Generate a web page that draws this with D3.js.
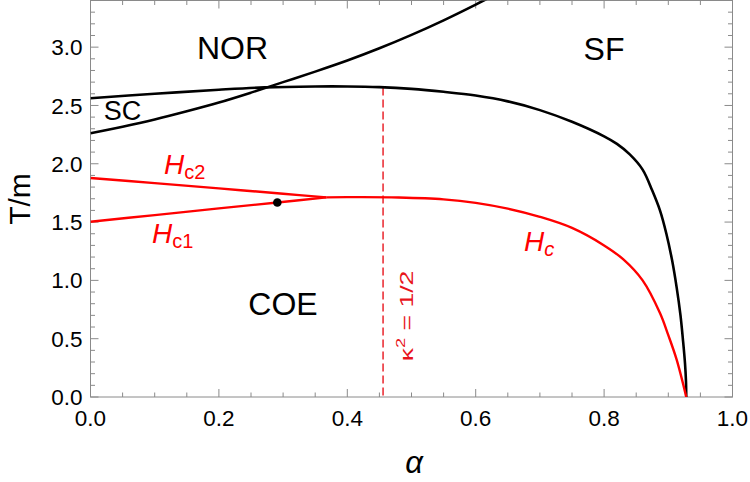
<!DOCTYPE html>
<html>
<head>
<meta charset="utf-8">
<script src="https://cdn.jsdelivr.net/npm/d3@7"></script>
<style>
  body { margin: 0; background: #fff; }
  text { font-family: "Liberation Sans", Arial, sans-serif; }
</style>
</head>
<body>
<div id="chart"></div>
<script>
// --- data ---
const norAlpha = [0, 0.05, 0.1, 0.15, 0.2, 0.25, 0.3, 0.35, 0.4, 0.45, 0.5, 0.55, 0.6, 0.63];
const norT     = [2.262, 2.318, 2.38, 2.45, 2.525, 2.61, 2.70, 2.79, 2.885, 2.99, 3.105, 3.23, 3.365, 3.45];

const sfAlpha = [0, 0.1, 0.2, 0.271, 0.35, 0.4, 0.45, 0.5, 0.55, 0.6, 0.65, 0.7, 0.75, 0.8, 0.82, 0.84, 0.86, 0.875, 0.887, 0.897, 0.906, 0.913, 0.919, 0.923, 0.926, 0.9275, 0.928];
const sfT     = [2.562, 2.60, 2.635, 2.655, 2.663, 2.663, 2.657, 2.642, 2.617, 2.585, 2.535, 2.46, 2.36, 2.235, 2.17, 2.08, 1.95, 1.77, 1.60, 1.40, 1.17, 0.94, 0.70, 0.48, 0.29, 0.14, 0];

const hc2Alpha = [0, 0.1, 0.2, 0.3, 0.3675];
const hc2T     = [1.878, 1.834, 1.789, 1.743, 1.712];

const hc1Alpha = [0, 0.1, 0.2, 0.291, 0.3675];
const hc1T     = [1.503, 1.560, 1.617, 1.668, 1.712];

const hcAlpha = [0.3675, 0.42, 0.48, 0.55, 0.6, 0.65, 0.7, 0.75, 0.8, 0.83, 0.86, 0.887, 0.9, 0.913, 0.928];
const hcT     = [1.712, 1.714, 1.711, 1.695, 1.665, 1.615, 1.545, 1.45, 1.30, 1.18, 1.00, 0.72, 0.53, 0.32, 0];

const dotPoint = [0.291, 1.668];
const kappaAlpha = 0.4557;

const xTicks = [0, 0.2, 0.4, 0.6, 0.8, 1.0];
const yTicks = [0, 0.5, 1.0, 1.5, 2.0, 2.5, 3.0];

const W = 750, H = 482;
const margin = {top: 0.5, right: 17.5, bottom: 85, left: 90.5};
const width = W - margin.left - margin.right;
const height = H - margin.top - margin.bottom;

const svg = d3.select("#chart").append("svg")
    .attr("width", W).attr("height", H);

const g = svg.append("g")
    .attr("transform", `translate(${margin.left},${margin.top})`);

const x = d3.scaleLinear().domain([0, 1]).range([0, width]);
const y = d3.scaleLinear().domain([0, 3.4]).range([height, 0]);

const frameColor = "#8a8a8a";

// minor / major ticks on all four sides, pointing inward
const xMinor = d3.range(0, 1.0001, 0.05);
const yMinor = d3.range(0, 3.40001, 0.1);
const isMajorX = v => xTicks.some(t => Math.abs(t - v) < 1e-6);
const isMajorY = v => yTicks.some(t => Math.abs(t - v) < 1e-6);

const ticks = g.append("g").attr("stroke", frameColor).attr("stroke-width", 1);
xMinor.forEach(v => {
    const len = isMajorX(v) ? 8 : 4.5;
    ticks.append("line").attr("x1", x(v)).attr("x2", x(v)).attr("y1", height).attr("y2", height - len);
    ticks.append("line").attr("x1", x(v)).attr("x2", x(v)).attr("y1", 0).attr("y2", len);
});
yMinor.forEach(v => {
    const len = isMajorY(v) ? 8 : 4.5;
    ticks.append("line").attr("y1", y(v)).attr("y2", y(v)).attr("x1", 0).attr("x2", len);
    ticks.append("line").attr("y1", y(v)).attr("y2", y(v)).attr("x1", width).attr("x2", width - len);
});

g.append("rect")
    .attr("width", width).attr("height", height)
    .attr("fill", "none").attr("stroke", frameColor).attr("stroke-width", 1);

// tick labels
g.selectAll(".xlab").data(xTicks).join("text")
    .attr("x", d => x(d)).attr("y", height + 29)
    .attr("text-anchor", "middle")
    .style("font-size", "22.5px")
    .text(d => d.toFixed(1));

g.selectAll(".ylab").data(yTicks).join("text")
    .attr("x", -8).attr("y", d => y(d)).attr("dy", "0.36em")
    .attr("text-anchor", "end")
    .style("font-size", "22.5px")
    .text(d => d.toFixed(1));

// axis titles
svg.append("text")
    .attr("transform", `translate(30,199) rotate(-90)`)
    .attr("text-anchor", "middle")
    .style("font-size", "30px")
    .text("T/m");

svg.append("text")
    .attr("x", 414).attr("y", 473)
    .attr("text-anchor", "middle")
    .style("font-size", "31px").style("font-style", "italic")
    .text("α");

// curves
svg.append("defs").append("clipPath").attr("id", "plotclip")
    .append("rect").attr("width", width).attr("height", height);

const plot = g.append("g").attr("clip-path", "url(#plotclip)");

const line = d3.line()
    .x(d => x(d[0])).y(d => y(d[1]))
    .curve(d3.curveCatmullRom.alpha(0.5));

const zip = (a, b) => a.map((v, i) => [v, b[i]]);

// kappa^2 = 1/2 dashed line
plot.append("line")
    .attr("x1", x(kappaAlpha)).attr("x2", x(kappaAlpha))
    .attr("y1", y(2.655)).attr("y2", height)
    .attr("stroke", "#e8141c").attr("stroke-width", 1.4)
    .attr("stroke-dasharray", "8,4");

plot.append("path").datum(zip(norAlpha, norT))
    .attr("d", line).attr("fill", "none").attr("stroke", "#000").attr("stroke-width", 2.6);
plot.append("path").datum(zip(sfAlpha, sfT))
    .attr("d", line).attr("fill", "none").attr("stroke", "#000").attr("stroke-width", 2.6);

[zip(hc2Alpha, hc2T), zip(hc1Alpha, hc1T), zip(hcAlpha, hcT)].forEach(d => {
    plot.append("path").datum(d)
        .attr("d", line).attr("fill", "none").attr("stroke", "#ff0000").attr("stroke-width", 2.4);
});

plot.append("circle")
    .attr("cx", x(dotPoint[0])).attr("cy", y(dotPoint[1])).attr("r", 4.3)
    .attr("fill", "#000");

// region labels
const labels = [
    {t: "NOR", x: 232.5, y: 59},
    {t: "SF", x: 604, y: 60},
    {t: "SC", x: 122.5, y: 120, s: 27},
    {t: "COE", x: 283, y: 315}
];
labels.forEach(l => {
    svg.append("text")
        .attr("x", l.x).attr("y", l.y)
        .attr("text-anchor", "middle")
        .style("font-size", (l.s || 32) + "px")
        .text(l.t);
});

// field labels
function hLabel(px, py, sub, italicSub) {
    const t = svg.append("text").attr("x", px).attr("y", py)
        .attr("fill", "#ff0000").style("font-size", "28px");
    t.append("tspan").style("font-style", "italic").text("H");
    t.append("tspan").attr("dy", 5).style("font-size", "20px")
        .style("font-style", italicSub ? "italic" : "normal").text(sub);
}
hLabel(164, 174, "c2", false);
hLabel(152, 243, "c1", false);
hLabel(524, 251, "c", true);

// rotated, horizontally stretched label next to the dashed line
const kt = svg.append("text")
    .attr("transform", `translate(413,316) rotate(-90) scale(1.4,1)`)
    .attr("text-anchor", "middle")
    .attr("fill", "#e8141c")
    .style("font-size", "19px");
kt.append("tspan").text("κ");
kt.append("tspan").attr("dy", -8).style("font-size", "13px").text("2");
kt.append("tspan").attr("dy", 8).text(" = 1/2");
</script>
</body>
</html>
